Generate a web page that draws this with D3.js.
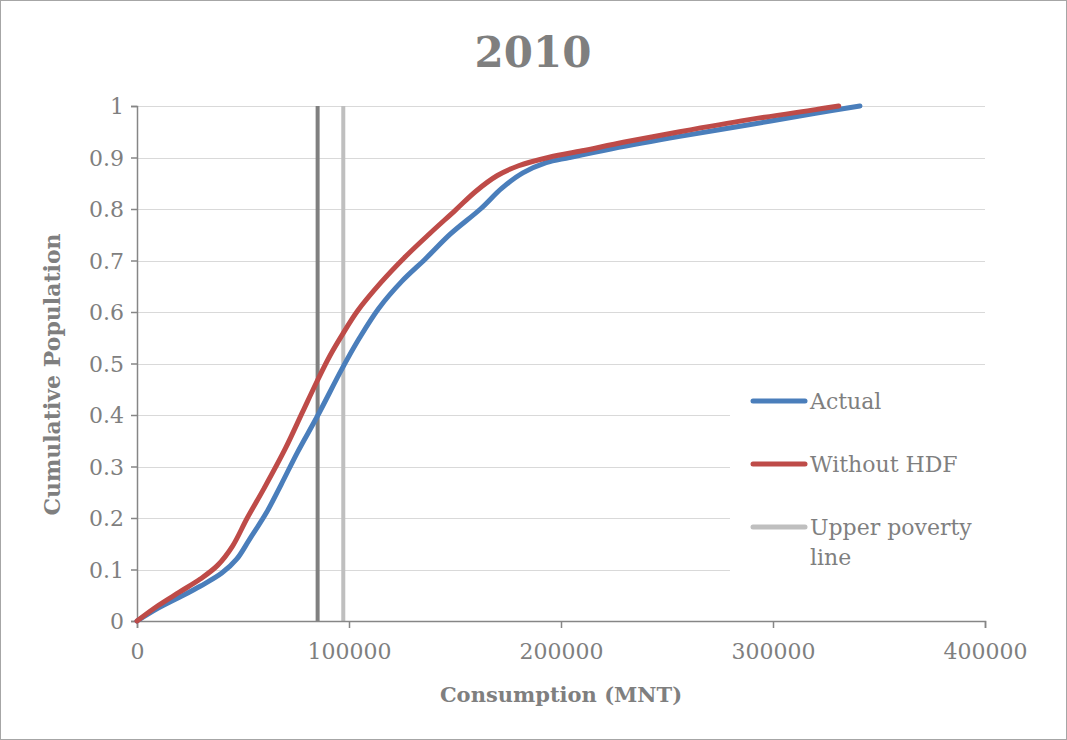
<!DOCTYPE html>
<html>
<head>
<meta charset="utf-8">
<script src="https://cdn.jsdelivr.net/npm/d3@7"></script>
<style>
  html, body { margin: 0; padding: 0; background: #fff; }
  svg { display: block; }
</style>
</head>
<body>
<svg id="chart" width="1067" height="740"></svg>
<script>
// Cumulative distribution of consumption, 2010
const actualConsumption = [0, 10000, 20000, 30000, 40000, 47000, 53000, 61000, 68000, 76000, 85000, 97000, 105000, 114000, 125000, 136000, 148000, 162000, 172000, 182000, 193000, 204000, 224000, 256000, 288000, 320000, 341000];
const actualShare       = [0, 0.025, 0.046, 0.068, 0.093, 0.12, 0.158, 0.21, 0.265, 0.33, 0.397, 0.492, 0.55, 0.607, 0.66, 0.703, 0.752, 0.8, 0.84, 0.87, 0.89, 0.9, 0.917, 0.941, 0.963, 0.986, 1.0];

const noHdfConsumption = [0, 10000, 20000, 30000, 38000, 45000, 52000, 60000, 70000, 78000, 85000, 91000, 97000, 104000, 115000, 126000, 138000, 150000, 160000, 170000, 180000, 194000, 210000, 230000, 256000, 288000, 320000, 331000];
const noHdfShare       = [0, 0.03, 0.056, 0.082, 0.108, 0.145, 0.2, 0.258, 0.335, 0.405, 0.466, 0.515, 0.557, 0.602, 0.657, 0.705, 0.752, 0.797, 0.835, 0.865, 0.884, 0.9, 0.913, 0.93, 0.95, 0.973, 0.993, 1.0];

const lowerPovertyLine = 85200;
const upperPovertyLine = 97300;

const xTicks = [0, 100000, 200000, 300000, 400000];
const yTicks = [0, 0.1, 0.2, 0.3, 0.4, 0.5, 0.6, 0.7, 0.8, 0.9, 1];

const seriesNames = ["Actual", "Without HDF", "Upper poverty line"];
const seriesColors = ["#4a7ebb", "#be4b48", "#bfbfbf"];

const FONT = "'DejaVu Serif', 'Liberation Serif', serif";
const TEXT = "#7f7f7f";
const AXIS = "#868686";
const GRID = "#d9d9d9";

const svg = d3.select("#chart");
const W = 1067, H = 740;

// outer frame
svg.append("rect")
  .attr("x", 0.5).attr("y", 0.5)
  .attr("width", W - 1).attr("height", H - 1)
  .attr("fill", "#fff").attr("stroke", "#a6a6a6").attr("stroke-width", 1);

const plot = { left: 137, right: 985, top: 106, bottom: 621 };

const x = d3.scaleLinear().domain([0, 400000]).range([plot.left, plot.right]);
const y = d3.scaleLinear().domain([0, 1]).range([plot.bottom, plot.top]);

// horizontal gridlines
svg.append("g")
  .selectAll("line")
  .data(yTicks.filter(d => d > 0))
  .join("line")
  .attr("x1", plot.left).attr("x2", plot.right)
  .attr("y1", d => Math.round(y(d)) + 0.5).attr("y2", d => Math.round(y(d)) + 0.5)
  .attr("stroke", GRID).attr("stroke-width", 1);

// legend background sits over the gridlines
const legendBox = { x: 730, y: 378, w: 258, h: 202 };
svg.append("rect")
  .attr("x", legendBox.x).attr("y", legendBox.y)
  .attr("width", legendBox.w).attr("height", legendBox.h)
  .attr("fill", "#fff");

// poverty lines
svg.append("line")
  .attr("x1", x(lowerPovertyLine)).attr("x2", x(lowerPovertyLine))
  .attr("y1", y(0)).attr("y2", y(1))
  .attr("stroke", "#808080").attr("stroke-width", 4);
svg.append("line")
  .attr("x1", x(upperPovertyLine)).attr("x2", x(upperPovertyLine))
  .attr("y1", y(0)).attr("y2", y(1))
  .attr("stroke", seriesColors[2]).attr("stroke-width", 4);

// axes
const xAxis = d3.axisBottom(x).tickValues(xTicks).tickSize(7).tickFormat(d3.format("d"));
const yAxis = d3.axisLeft(y).tickValues(yTicks).tickSize(6).tickFormat(d => d === 0 || d === 1 ? String(d) : d3.format(".1f")(d));

const gx = svg.append("g").attr("transform", `translate(0,${plot.bottom})`).call(xAxis);
const gy = svg.append("g").attr("transform", `translate(${plot.left},0)`).call(yAxis);

[gx, gy].forEach(g => {
  g.select(".domain").attr("stroke", AXIS).attr("stroke-width", 1.5);
  g.selectAll(".tick line").attr("stroke", AXIS).attr("stroke-width", 1.5);
  g.selectAll(".tick text")
    .attr("fill", TEXT)
    .style("font-family", FONT)
    .style("font-size", "22px");
});
gx.selectAll(".tick text").attr("dy", "1.25em");
gy.selectAll(".tick text").attr("x", -13).attr("dy", "0.36em");

// curves
const lineGen = d3.line()
  .x(d => x(d[0]))
  .y(d => y(d[1]))
  .curve(d3.curveCatmullRom.alpha(0.5));

const actual = d3.zip(actualConsumption, actualShare);
const noHdf = d3.zip(noHdfConsumption, noHdfShare);

svg.append("path")
  .datum(actual)
  .attr("d", lineGen)
  .attr("fill", "none")
  .attr("stroke", seriesColors[0])
  .attr("stroke-width", 5)
  .attr("stroke-linejoin", "round")
  .attr("stroke-linecap", "round");

svg.append("path")
  .datum(noHdf)
  .attr("d", lineGen)
  .attr("fill", "none")
  .attr("stroke", seriesColors[1])
  .attr("stroke-width", 5)
  .attr("stroke-linejoin", "round")
  .attr("stroke-linecap", "round");

// title
svg.append("text")
  .attr("x", 533).attr("y", 67)
  .attr("text-anchor", "middle")
  .attr("fill", TEXT)
  .style("font-family", FONT)
  .style("font-weight", "bold")
  .style("font-size", "42px")
  .text("2010");

// axis titles
svg.append("text")
  .attr("x", (plot.left + plot.right) / 2).attr("y", 702)
  .attr("text-anchor", "middle")
  .attr("fill", TEXT)
  .style("font-family", FONT)
  .style("font-weight", "bold")
  .style("font-size", "21px")
  .text("Consumption (MNT)");

svg.append("text")
  .attr("transform", `translate(60,${(plot.top + plot.bottom) / 2 + 11}) rotate(-90)`)
  .attr("text-anchor", "middle")
  .attr("fill", TEXT)
  .style("font-family", FONT)
  .style("font-weight", "bold")
  .style("font-size", "22px")
  .text("Cumulative Population");

// legend
const legendRows = [401, 464, 527];
const lg = svg.append("g");
seriesNames.forEach((name, i) => {
  lg.append("line")
    .attr("x1", 753).attr("x2", 805)
    .attr("y1", legendRows[i]).attr("y2", legendRows[i])
    .attr("stroke", seriesColors[i])
    .attr("stroke-width", 5)
    .attr("stroke-linecap", "round");
  const t = lg.append("text")
    .attr("x", 810).attr("y", legendRows[i] + 8)
    .attr("fill", TEXT)
    .style("font-family", FONT)
    .style("font-size", "22px");
  if (name === "Upper poverty line") {
    t.append("tspan").attr("x", 810).text("Upper poverty");
    t.append("tspan").attr("x", 810).attr("dy", 30).text("line");
  } else {
    t.text(name);
  }
});
</script>
</body>
</html>
